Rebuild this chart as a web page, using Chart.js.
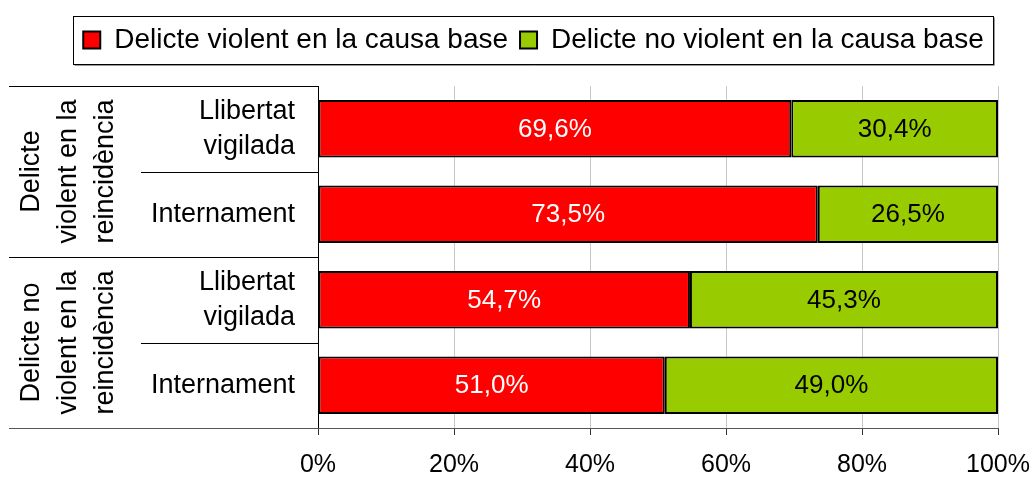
<!DOCTYPE html>
<html><head><meta charset="utf-8">
<script src="https://cdn.jsdelivr.net/npm/chart.js@4"></script>
<style>html,body{margin:0;padding:0;background:#fff}canvas{display:block}</style>
</head><body>
<canvas id="c" width="1034" height="477"></canvas>
<script>
// ---- data ----
const groupLabels = [['Delicte','violent en la','reincidència'], ['Delicte no','violent en la','reincidència']];
const categories = [['Llibertat','vigilada'], 'Internament', ['Llibertat','vigilada'], 'Internament'];
const seriesNames = ['Delicte violent en la causa base', 'Delicte no violent en la causa base'];
const violentBase = [69.6, 73.5, 54.7, 51.0];
const nonViolentBase = [30.4, 26.5, 45.3, 49.0];
const xTickValues = [0, 20, 40, 60, 80, 100];
const seriesColors = ['#FF0000', '#99CC00'];
const labelColors = ['#FFFFFF', '#000000'];

const FONT = "'Liberation Sans', Arial, sans-serif";
const fmt = v => v.toFixed(1).replace('.', ',') + '%';

const legendGap = {
  id: 'legendGap',
  beforeInit(chart) {
    const orig = chart.legend.fit;
    chart.legend.fit = function () { orig.call(this); this.height += 22; };
  }
};

const deco = {
  id: 'deco',
  afterDatasetsDraw(chart) {
    const ctx = chart.ctx;
    ctx.save();
    ctx.font = '26px ' + FONT;
    ctx.textAlign = 'center';
    ctx.textBaseline = 'middle';
    chart.data.datasets.forEach((ds, di) => {
      const meta = chart.getDatasetMeta(di);
      meta.data.forEach((el, i) => {
        ctx.fillStyle = labelColors[di];
        ctx.fillText(fmt(ds.data[i]), (el.x + el.base) / 2, el.y + 1);
      });
    });
    ctx.restore();
  },
  afterDraw(chart) {
    const ctx = chart.ctx;
    const ca = chart.chartArea;
    const ys = chart.scales.y;
    const n = categories.length;
    const pix = i => ys.getPixelForValue(i);
    const boundary = i => (i <= 0 ? ca.top : (i >= n ? ca.bottom : (pix(i - 1) + pix(i)) / 2));
    const L = Math.round(ca.left) + 0.5;
    ctx.save();
    ctx.lineWidth = 1;
    ctx.strokeStyle = '#000';
    ctx.beginPath();
    for (let i = 0; i < n; i++) {
      const y = Math.round(boundary(i)) + 0.5;
      const x0 = (i % 2 === 0) ? 9 : 141;
      ctx.moveTo(x0, y); ctx.lineTo(L, y);
    }
    ctx.stroke();
    ctx.strokeStyle = '#555';
    ctx.beginPath();
    const yb = Math.round(ca.bottom) + 0.5;
    ctx.moveTo(9, yb); ctx.lineTo(Math.round(ca.right) + 1, yb);
    ctx.stroke();
    ctx.fillStyle = '#000';
    ctx.font = '27px ' + FONT;
    ctx.textAlign = 'center';
    ctx.textBaseline = 'middle';
    groupLabels.forEach((lines, g) => {
      const yc = (boundary(g * 2) + boundary(g * 2 + 2)) / 2;
      lines.forEach((t, k) => {
        ctx.save();
        ctx.translate(32 + k * 37, yc);
        ctx.rotate(-Math.PI / 2);
        ctx.fillText(t, 0, 0);
        ctx.restore();
      });
    });
    const hb = chart.legend.legendHitBoxes;
    if (hb && hb.length) {
      const first = hb[0], last = hb[hb.length - 1];
      const cy = first.top + first.height / 2;
      const x0 = Math.round(first.left - 10) + 0.5;
      const x1 = Math.round(last.left + last.width + 9) + 0.5;
      const y0 = Math.round(cy - 24) + 0.5;
      const y1 = Math.round(cy + 24) + 0.5;
      ctx.strokeStyle = '#9a9a9a';
      ctx.beginPath();
      ctx.moveTo(x1 + 1, y0 + 1); ctx.lineTo(x1 + 1, y1 + 1); ctx.lineTo(x0 + 1, y1 + 1);
      ctx.stroke();
      ctx.strokeStyle = '#000';
      ctx.strokeRect(x0, y0, x1 - x0, y1 - y0);
    }
    ctx.restore();
  }
};

new Chart(document.getElementById('c'), {
  type: 'bar',
  data: {
    labels: categories,
    datasets: [
      { label: seriesNames[0], data: violentBase, backgroundColor: seriesColors[0], borderColor: '#000', borderWidth: 2, borderSkipped: false },
      { label: seriesNames[1], data: nonViolentBase, backgroundColor: seriesColors[1], borderColor: '#000', borderWidth: 2, borderSkipped: false }
    ]
  },
  options: {
    indexAxis: 'y',
    responsive: false,
    animation: false,
    layout: { padding: { left: 69, right: 36, top: 14, bottom: 0 } },
    datasets: { bar: { barPercentage: 0.67, categoryPercentage: 1 } },
    plugins: {
      tooltip: { enabled: false },
      legend: {
        position: 'top',
        labels: {
          boxWidth: 17, boxHeight: 17, padding: 12, color: '#000',
          font: { family: FONT, size: 28, lineHeight: 1.2 }
        }
      }
    },
    scales: {
      x: {
        stacked: true, min: 0, max: 100,
        afterBuildTicks: s => { s.ticks = xTickValues.map(v => ({ value: v })); },
        afterFit: s => { s.height = 49; s.paddingLeft = 0; s.paddingRight = 0; },
        grid: { color: '#c8c8c8', tickColor: '#333', tickLength: 7, drawOnChartArea: true },
        border: { display: false },
        ticks: { color: '#000', padding: 18, font: { family: FONT, size: 25, lineHeight: 1 }, callback: v => v + '%', maxRotation: 0, autoSkip: false }
      },
      y: {
        stacked: true,
        afterFit: s => { s.width = 249; s.paddingTop = 0; s.paddingBottom = 0; },
        grid: { display: false, drawTicks: false },
        border: { display: true, color: '#000', width: 1 },
        ticks: { color: '#000', padding: 23, font: { family: FONT, size: 27, lineHeight: 1.3 }, autoSkip: false }
      }
    }
  },
  plugins: [legendGap, deco]
});
</script>
</body></html>
